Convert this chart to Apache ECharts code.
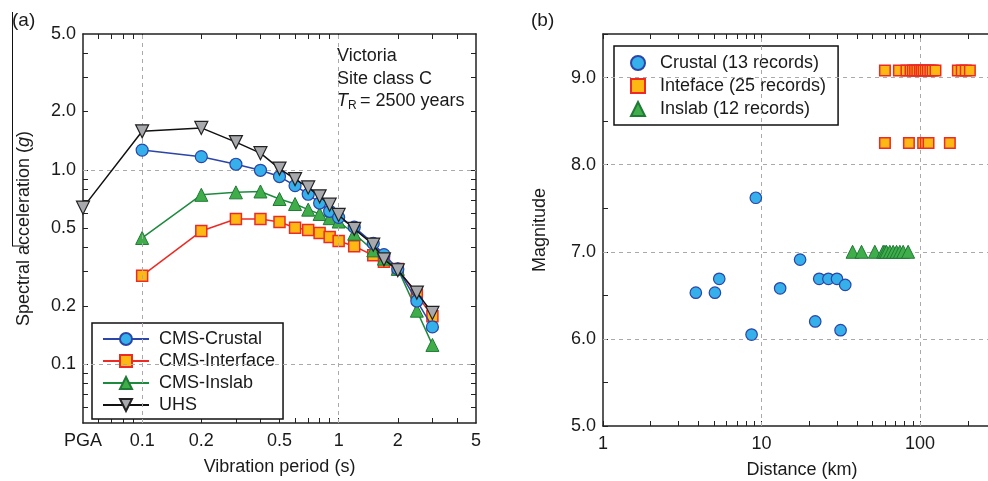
<!DOCTYPE html>
<html>
<head>
<meta charset="utf-8">
<script src="https://cdn.jsdelivr.net/npm/echarts@6/dist/echarts.min.js"></script>
<style>html,body{margin:0;padding:0;background:#fff}#c{width:988px;height:481px}</style>
</head>
<body>
<div id="c"></div>
<script>
// ---------- Panel (a): spectra ----------
const periods = [0.1, 0.2, 0.3, 0.4, 0.5, 0.6, 0.7, 0.8, 0.9, 1.0, 1.2, 1.5, 1.7, 2.0, 2.5, 3.0];
const pgaPeriod = 0.05; // PGA plotted at the left edge of the period axis
const crustalSa = [1.265, 1.17, 1.07, 0.996, 0.925, 0.83, 0.75, 0.676, 0.613, 0.57, 0.508, 0.419, 0.367, 0.31, 0.212, 0.156];
const interfaceSa = [0.286, 0.485, 0.56, 0.56, 0.54, 0.504, 0.491, 0.474, 0.452, 0.431, 0.405, 0.364, 0.337, 0.31, 0.228, 0.177];
const inslabSa = [0.447, 0.745, 0.767, 0.775, 0.709, 0.668, 0.625, 0.594, 0.565, 0.543, 0.47, 0.386, 0.35, 0.31, 0.189, 0.126];
const uhsPga = 0.64;
const uhsSa = [1.58, 1.645, 1.39, 1.22, 1.016, 0.897, 0.813, 0.732, 0.663, 0.587, 0.498, 0.413, 0.347, 0.305, 0.234, 0.184];

const periodTickValues = [0.05, 0.1, 0.2, 0.5, 1, 2, 5];
const periodTickLabels = ['PGA', '0.1', '0.2', '0.5', '1', '2', '5'];
const periodMinorTicks = [0.06, 0.07, 0.08, 0.09, 0.1, 0.2, 0.3, 0.4, 0.5, 0.6, 0.7, 0.8, 0.9, 1, 2, 3, 4];
const saTickValues = [0.1, 0.2, 0.5, 1, 2, 5];
const saTickLabels = ['0.1', '0.2', '0.5', '1.0', '2.0', '5.0'];
const saMinorTicks = [0.06, 0.07, 0.08, 0.09, 0.1, 0.2, 0.3, 0.4, 0.5, 0.6, 0.7, 0.8, 0.9, 1, 2, 3, 4];
const periodGrid = [0.1, 1];
const saGrid = [0.1, 1];

// ---------- Panel (b): records ----------
const crustalDist = [3.85, 5.08, 5.41, 8.65, 9.2, 13.1, 17.5, 21.8, 23.1, 26.4, 29.9, 31.5, 33.7];
const crustalMag = [6.53, 6.53, 6.69, 6.05, 7.62, 6.58, 6.91, 6.2, 6.69, 6.69, 6.69, 6.1, 6.62];
const interfaceDist = [60, 73.5, 82, 87, 90, 93, 96, 99.5, 102, 105, 108.5, 112, 116, 120, 125, 173, 183, 194, 206,
                       60, 85, 104.5, 108.6, 113, 154];
const interfaceMag = [9.08, 9.08, 9.08, 9.08, 9.08, 9.08, 9.08, 9.08, 9.08, 9.08, 9.08, 9.08, 9.08, 9.08, 9.08, 9.08, 9.08, 9.08, 9.08,
                      8.25, 8.25, 8.25, 8.25, 8.25, 8.25];
const inslabDist = [37.5, 42.7, 51.8, 58.5, 60, 61.4, 64.4, 67.6, 71, 74.5, 78.2, 84];
const inslabMag = [7.0, 7.0, 7.0, 7.0, 7.0, 7.0, 7.0, 7.0, 7.0, 7.0, 7.0, 7.0];

const distTickValues = [1, 10, 100];
const distMinorTicks = [1, 2, 3, 4, 5, 6, 7, 8, 9, 10, 20, 30, 40, 50, 60, 70, 80, 90, 100, 200];
const distMax = 268; // panel is cropped at the right edge of the figure
const magTickValues = [5, 6, 7, 8, 9];
const magMinorTicks = [5, 5.5, 6, 6.5, 7, 7.5, 8, 8.5, 9, 9.5];
const distGrid = [10, 100];
const magGrid = [6, 7, 8, 9];

// ---------- helpers ----------
const FONT = 'Liberation Sans, Arial, sans-serif';
const TXT = '#1a1a1a';
const FRAME = '#222';
const pairs = (xs, ys) => xs.map((x, i) => [x, ys[i]]);
const labelFor = (vals, texts) => (v) => {
  let best = 0;
  vals.forEach((t, i) => { if (Math.abs(Math.log(t) - Math.log(v)) < Math.abs(Math.log(vals[best]) - Math.log(v))) best = i; });
  return texts[best];
};
const frameAxis = (extra) => Object.assign({
  axisLine: { show: true, onZero: false, lineStyle: { color: FRAME, width: 1.5 } },
  splitLine: { show: false },
  axisLabel: { show: false },
  axisTick: { show: true, inside: true, length: 5, lineStyle: { color: FRAME, width: 1 } }
}, extra);
const gridMark = (xs, ys) => ({
  silent: true, symbol: 'none', label: { show: false }, animation: false,
  lineStyle: { type: [4, 4], color: '#aaaaaa', width: 1 },
  emphasis: { disabled: true },
  data: xs.map(v => ({ xAxis: v })).concat(ys.map(v => ({ yAxis: v })))
});

const chart = echarts.init(document.getElementById('c'), null, { renderer: 'canvas' });

const option = {
  animation: false,
  backgroundColor: '#fff',
  textStyle: { fontFamily: FONT, color: TXT },
  grid: [
    { left: 83, right: 512, top: 34, bottom: 56 },
    { left: 603, right: 0, top: 34, bottom: 55 }
  ],
  xAxis: [
    frameAxis({
      gridIndex: 0, type: 'log', min: 0.05, max: 5, position: 'bottom',
      axisTick: { show: true, inside: true, length: 5, customValues: periodMinorTicks, lineStyle: { color: FRAME } },
      axisLabel: { show: true, customValues: periodTickValues, formatter: labelFor(periodTickValues, periodTickLabels),
                   fontSize: 18, color: TXT, margin: 9, fontFamily: FONT },
      name: 'Vibration period (s)', nameLocation: 'middle', nameGap: 35,
      nameTextStyle: { fontSize: 18, color: TXT, fontFamily: FONT }
    }),
    frameAxis({ gridIndex: 0, type: 'log', min: 0.05, max: 5, position: 'top',
      axisTick: { show: true, inside: true, length: 5, customValues: periodMinorTicks, lineStyle: { color: FRAME } } }),
    frameAxis({
      gridIndex: 1, type: 'log', min: 1, max: distMax, position: 'bottom',
      axisTick: { show: true, inside: true, length: 5, customValues: distMinorTicks, lineStyle: { color: FRAME } },
      axisLabel: { show: true, customValues: distTickValues, formatter: (v) => String(Math.round(v)),
                   fontSize: 18, color: TXT, margin: 9, fontFamily: FONT },
      name: 'Distance (km)', nameLocation: 'start', nameGap: -199, nameTextStyle: { fontSize: 18, color: TXT, fontFamily: FONT, verticalAlign: 'top', align: 'center', padding: [35, 0, 0, 0] }
    }),
    frameAxis({ gridIndex: 1, type: 'log', min: 1, max: distMax, position: 'top',
      axisTick: { show: true, inside: true, length: 5, customValues: distMinorTicks, lineStyle: { color: FRAME } } })
  ],
  yAxis: [
    frameAxis({
      gridIndex: 0, type: 'log', min: 0.05, max: 5, position: 'left',
      axisTick: { show: true, inside: true, length: 5, customValues: saMinorTicks, lineStyle: { color: FRAME } },
      axisLabel: { show: true, customValues: saTickValues, formatter: labelFor(saTickValues, saTickLabels),
                   fontSize: 18, color: TXT, margin: 7, fontFamily: FONT },
      name: 'Spectral acceleration ({i|g})', nameLocation: 'middle', nameGap: 50, nameRotate: 90,
      nameTextStyle: { fontSize: 18, color: TXT, fontFamily: FONT,
                       rich: { i: { fontStyle: 'italic', fontSize: 18, color: TXT, fontFamily: FONT } } }
    }),
    frameAxis({ gridIndex: 0, type: 'log', min: 0.05, max: 5, position: 'right',
      axisTick: { show: true, inside: true, length: 5, customValues: saMinorTicks, lineStyle: { color: FRAME } } }),
    frameAxis({
      gridIndex: 1, type: 'value', min: 5, max: 9.5, interval: 1, position: 'left',
      axisTick: { show: true, inside: true, length: 5, customValues: magMinorTicks, lineStyle: { color: FRAME } },
      axisLabel: { show: true, customValues: magTickValues, formatter: (v) => v.toFixed(1),
                   fontSize: 18, color: TXT, margin: 7, fontFamily: FONT },
      name: 'Magnitude', nameLocation: 'middle', nameGap: 54, nameRotate: 90,
      nameTextStyle: { fontSize: 18, color: TXT, fontFamily: FONT }
    })
  ],
  legend: [
    {
      data: ['CMS-Crustal', 'CMS-Interface', 'CMS-Inslab', 'UHS'],
      orient: 'vertical', left: 92, top: 323,
      padding: [7, 8, 5, 10], itemGap: 4, itemWidth: 46, itemHeight: 15,
      borderColor: '#111', borderWidth: 1.5, backgroundColor: '#fff',
      textStyle: { fontSize: 18, color: TXT, fontFamily: FONT, padding: [0, 0, 0, 5] },
      selectedMode: false
    },
    {
      data: ['Crustal (13 records)', 'Inteface (25 records)', 'Inslab (12 records)'],
      orient: 'vertical', left: 614, top: 46,
      padding: [8, 12, 7, 16], itemGap: 5, itemWidth: 14, itemHeight: 14,
      borderColor: '#111', borderWidth: 1.5, backgroundColor: '#fff',
      textStyle: { fontSize: 18, color: TXT, fontFamily: FONT, padding: [0, 0, 0, 10] },
      selectedMode: false
    }
  ],
  series: [
    { type: 'line', name: 'gridA', xAxisIndex: 0, yAxisIndex: 0, data: [], z: 1, markLine: gridMark(periodGrid, saGrid) },
    { type: 'scatter', name: 'gridB', xAxisIndex: 2, yAxisIndex: 2, data: [], z: 1, markLine: gridMark(distGrid, magGrid) },
    {
      type: 'line', name: 'CMS-Interface', xAxisIndex: 0, yAxisIndex: 0, data: pairs(periods, interfaceSa),
      symbol: 'rect', symbolSize: 11, z: 3,
      lineStyle: { color: '#ee2a24', width: 1.5 },
      itemStyle: { color: '#fdb813', borderColor: '#ee2a24', borderWidth: 1.5 }
    },
    {
      type: 'line', name: 'CMS-Inslab', xAxisIndex: 0, yAxisIndex: 0, data: pairs(periods, inslabSa),
      symbol: 'triangle', symbolSize: 13, z: 4,
      lineStyle: { color: '#1e8a3e', width: 1.5 },
      itemStyle: { color: '#3fae4a', borderColor: '#1e7a35', borderWidth: 1 }
    },
    {
      type: 'line', name: 'CMS-Crustal', xAxisIndex: 0, yAxisIndex: 0, data: pairs(periods, crustalSa),
      symbol: 'circle', symbolSize: 12, z: 5,
      lineStyle: { color: '#2b45a8', width: 1.5 },
      itemStyle: { color: '#35b0ea', borderColor: '#2b45a8', borderWidth: 1.2 }
    },
    {
      type: 'line', name: 'UHS', xAxisIndex: 0, yAxisIndex: 0,
      data: [[pgaPeriod, uhsPga]].concat(pairs(periods, uhsSa)),
      symbol: 'triangle', symbolRotate: 180, symbolSize: 13, z: 6,
      lineStyle: { color: '#111', width: 1.5 },
      itemStyle: { color: '#a7a9ac', borderColor: '#222', borderWidth: 1.2 }
    },
    {
      type: 'scatter', name: 'Crustal (13 records)', xAxisIndex: 2, yAxisIndex: 2, data: pairs(crustalDist, crustalMag),
      symbol: 'circle', symbolSize: 11.5, z: 5,
      itemStyle: { color: '#35b0ea', borderColor: '#2b45a8', borderWidth: 1.2, opacity: 1 }
    },
    {
      type: 'scatter', name: 'Inteface (25 records)', xAxisIndex: 2, yAxisIndex: 2, data: pairs(interfaceDist, interfaceMag),
      symbol: 'rect', symbolSize: 10.5, z: 5,
      itemStyle: { color: '#fdb813', borderColor: '#ee2a24', borderWidth: 1.5, opacity: 1 }
    },
    {
      type: 'scatter', name: 'Inslab (12 records)', xAxisIndex: 2, yAxisIndex: 2, data: pairs(inslabDist, inslabMag),
      symbol: 'triangle', symbolSize: 13, z: 5,
      itemStyle: { color: '#3fae4a', borderColor: '#1e7a35', borderWidth: 1, opacity: 1 }
    }
  ],
  graphic: [
    { type: 'text', left: 12, top: 11, style: { text: '(a)', fontSize: 19, fill: TXT, fontFamily: FONT } },
    { type: 'text', left: 531, top: 11, style: { text: '(b)', fontSize: 19, fill: TXT, fontFamily: FONT } },
    { type: 'line', shape: { x1: 12.5, y1: 12, x2: 12.5, y2: 246 }, style: { stroke: '#111', lineWidth: 1 } },
    { type: 'line', shape: { x1: 12, y1: 246, x2: 24, y2: 246 }, style: { stroke: '#111', lineWidth: 1 } },
    { type: 'text', left: 337, top: 47, style: { text: 'Victoria', fontSize: 18, fill: TXT, fontFamily: FONT } },
    { type: 'text', left: 337, top: 70, style: { text: 'Site class C', fontSize: 18, fill: TXT, fontFamily: FONT } },
    { type: 'text', left: 337, top: 92, style: { text: 'T', fontSize: 18, fontStyle: 'italic', fill: TXT, fontFamily: FONT } },
    { type: 'text', left: 348, top: 100, style: { text: 'R', fontSize: 12, fill: TXT, fontFamily: FONT } },
    { type: 'text', left: 360, top: 92, style: { text: '= 2500 years', fontSize: 18, fill: TXT, fontFamily: FONT } }
  ]
};
chart.setOption(option);
</script>
</body>
</html>
